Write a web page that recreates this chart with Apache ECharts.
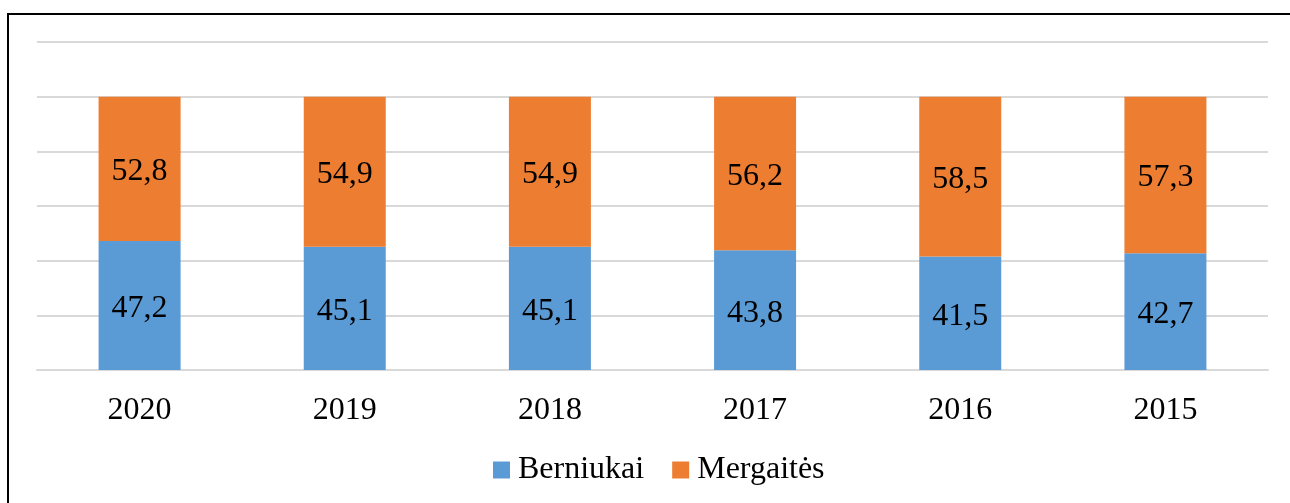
<!DOCTYPE html>
<html><head><meta charset="utf-8">
<script src="https://cdn.jsdelivr.net/npm/echarts@6/dist/echarts.min.js"></script>
<style>
html,body{margin:0;padding:0;background:#fff;overflow:hidden}
#frame{position:absolute;left:7px;top:13px;width:1400px;height:600px;border:2px solid #000;box-sizing:border-box;pointer-events:none}
#c{position:absolute;left:0;top:0;width:1290px;height:503px}
</style></head>
<body>
<div id="c"></div>
<div id="frame"></div>
<script>
const categories = ['2020','2019','2018','2017','2016','2015'];
const berniukai = [47.2,45.1,45.1,43.8,41.5,42.7];
const mergaites = [52.8,54.9,54.9,56.2,58.5,57.3];
const chart = echarts.init(document.getElementById('c'));
const fnt = '"Liberation Serif","Times New Roman",serif';
const lbl = {show:true,position:'inside',offset:[0,3],color:'#000',fontSize:32,fontFamily:fnt,
  formatter:p=>String(p.value).replace('.',',')};
chart.setOption({
  animation:false,
  textStyle:{fontFamily:fnt},
  grid:{left:37,right:22,top:42,bottom:133},
  legend:{top:449,left:488,itemWidth:17,itemHeight:17,itemGap:28,icon:'rect',
    textStyle:{fontSize:32,fontFamily:fnt,color:'#000',padding:[0,0,0,3]},
    data:['Berniukai','Mergaitės']},
  xAxis:{type:'category',data:categories,
    axisLine:{show:true,lineStyle:{color:'#d9d9d9',width:2}},
    axisTick:{show:false},
    axisLabel:{fontSize:32,fontFamily:fnt,color:'#000',margin:25}},
  yAxis:{type:'value',min:0,max:120,interval:20,
    axisLabel:{show:false},axisLine:{show:false},axisTick:{show:false},
    splitLine:{lineStyle:{color:'#d9d9d9',width:2}}},
  series:[
    {name:'Berniukai',type:'bar',stack:'a',data:berniukai,barWidth:82,
     itemStyle:{color:'#5B9BD5'},label:lbl},
    {name:'Mergaitės',type:'bar',stack:'a',data:mergaites,barWidth:82,
     itemStyle:{color:'#ED7D31'},label:lbl}
  ]
});
</script>
</body></html>
